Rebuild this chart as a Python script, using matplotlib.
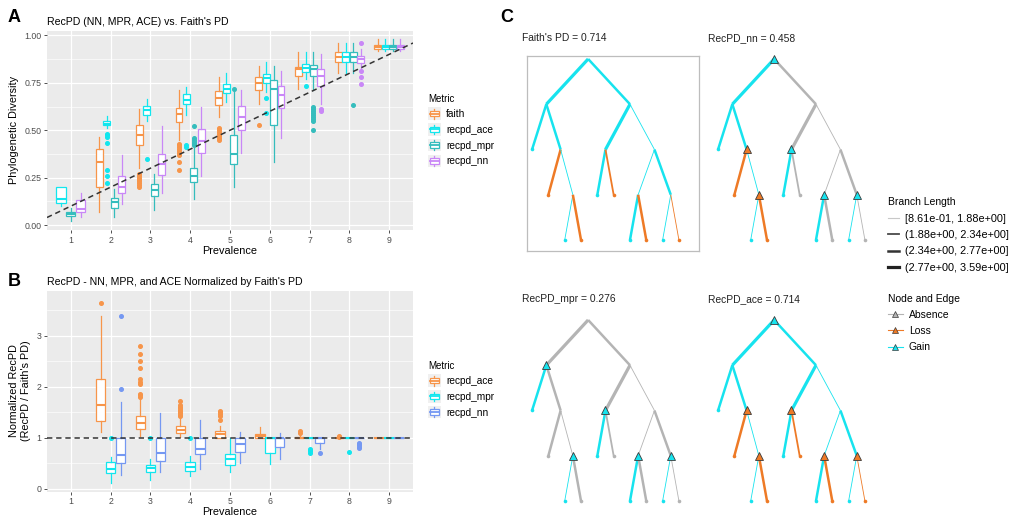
import numpy as np
import matplotlib
matplotlib.use("Agg")
import matplotlib.pyplot as plt
from matplotlib.patches import Rectangle, Patch
from matplotlib.lines import Line2D
from matplotlib.legend_handler import HandlerBase

plt.rcParams['font.family'] = ['Liberation Sans', 'DejaVu Sans']

# ---------------- DATA ----------------
prevalence = [1, 2, 3, 4, 5, 6, 7, 8, 9]

# Panel A: (whisker low, q1, median, q3, whisker high) per prevalence
faith_box = [None,
             (0.07, 0.20, 0.335, 0.40, 0.465),
             (0.30, 0.42, 0.473, 0.526, 0.61),
             (0.45, 0.544, 0.588, 0.618, 0.71),
             (0.57, 0.633, 0.671, 0.707, 0.78),
             (0.64, 0.712, 0.747, 0.78, 0.84),
             (0.72, 0.788, 0.822, 0.836, 0.91),
             (0.80, 0.862, 0.887, 0.915, 0.96),
             (0.92, 0.93, 0.94, 0.95, 0.98)]
faith_out = [[], [], [0.27, 0.26, 0.25, 0.24, 0.23, 0.22, 0.21, 0.20],
             [0.43, 0.42, 0.41, 0.40, 0.39, 0.38, 0.37, 0.33, 0.29],
             [0.51, 0.50, 0.49, 0.48, 0.47, 0.46, 0.45], [0.53], [], [], []]

ace_box = [(0.10, 0.117, 0.138, 0.203, 0.203),
           (0.51, 0.527, 0.533, 0.548, 0.576),
           (0.55, 0.58, 0.606, 0.629, 0.665),
           (0.58, 0.641, 0.659, 0.689, 0.73),
           (0.65, 0.694, 0.717, 0.742, 0.80),
           (0.70, 0.747, 0.774, 0.795, 0.86),
           (0.77, 0.806, 0.83, 0.848, 0.91),
           (0.80, 0.862, 0.887, 0.915, 0.96),
           (0.92, 0.93, 0.94, 0.95, 0.98)]
ace_out = [[], [0.482, 0.473, 0.465, 0.435, 0.288, 0.261, 0.221], [0.35],
           [0.42, 0.41], [], [0.67, 0.59], [0.735], [], []]

mpr_box = [(0.02, 0.05, 0.058, 0.07, 0.09),
           (0.04, 0.088, 0.124, 0.141, 0.19),
           (0.08, 0.152, 0.187, 0.217, 0.27),
           (0.14, 0.226, 0.261, 0.30, 0.41),
           (0.20, 0.32, 0.376, 0.473, 0.70),
           (0.33, 0.527, 0.72, 0.765, 0.84),
           (0.71, 0.788, 0.823, 0.845, 0.91),
           (0.80, 0.862, 0.885, 0.915, 0.96),
           (0.92, 0.93, 0.94, 0.95, 0.98)]
mpr_out = [[], [], [], [0.52, 0.46, 0.45, 0.44, 0.43, 0.42], [0.715], [],
           [0.62, 0.61, 0.60, 0.59, 0.58, 0.57, 0.56, 0.55, 0.50], [0.635], []]

nn_box = [(0.04, 0.067, 0.085, 0.132, 0.17),
          (0.11, 0.17, 0.203, 0.26, 0.37),
          (0.17, 0.265, 0.32, 0.376, 0.52),
          (0.26, 0.382, 0.442, 0.509, 0.62),
          (0.38, 0.50, 0.57, 0.629, 0.71),
          (0.46, 0.618, 0.686, 0.735, 0.81),
          (0.64, 0.735, 0.788, 0.822, 0.90),
          (0.83, 0.853, 0.876, 0.894, 0.93),
          (0.92, 0.93, 0.94, 0.95, 0.98)]
nn_out = [[], [], [], [], [], [], [0.61, 0.60], [0.96, 0.81, 0.78, 0.745], []]

ref_slope_A = 0.1     # dashed reference line y = 0.1 * prevalence

# Panel B: normalized by Faith's PD
bace_box = [None,
            (1.12, 1.33, 1.64, 2.16, 3.38),
            (1.03, 1.18, 1.28, 1.42, 1.75),
            (1.02, 1.10, 1.16, 1.23, 1.38),
            (1.0, 1.0, 1.07, 1.14, 1.22),
            (1.0, 1.0, 1.04, 1.08, 1.20),
            (1.0, 1.0, 1.0, 1.02, 1.07),
            (1.0, 1.0, 1.0, 1.0, 1.0),
            (1.0, 1.0, 1.0, 1.0, 1.0)]
bace_out = [[], [3.65],
            [1.80, 1.83, 1.86, 2.05, 2.10, 2.16, 2.36, 2.50, 2.65, 2.80],
            [1.42, 1.45, 1.48, 1.50, 1.52, 1.55, 1.58, 1.60, 1.65, 1.72],
            [1.35, 1.43, 1.47, 1.50, 1.53], [], [1.10, 1.13], [1.03, 1.02], []]

bmpr_box = [None,
            (0.12, 0.30, 0.38, 0.53, 0.62),
            (0.18, 0.33, 0.40, 0.46, 0.58),
            (0.25, 0.35, 0.43, 0.53, 0.65),
            (0.33, 0.46, 0.58, 0.69, 1.0),
            (0.48, 0.70, 1.0, 1.0, 1.0),
            (1.0, 1.0, 1.0, 1.0, 1.0),
            (1.0, 1.0, 1.0, 1.0, 1.0),
            (1.0, 1.0, 1.0, 1.0, 1.0)]
bmpr_out = [[], [1.0], [1.0], [1.0], [], [], [0.78, 0.76, 0.73, 0.70], [0.72], []]

bnn_box = [None,
           (0.27, 0.50, 0.66, 1.0, 1.70),
           (0.32, 0.55, 0.70, 1.0, 1.48),
           (0.38, 0.68, 0.78, 1.0, 1.35),
           (0.50, 0.72, 0.87, 1.0, 1.12),
           (0.58, 0.81, 1.0, 1.0, 1.10),
           (0.78, 0.89, 1.0, 1.0, 1.0),
           (1.0, 1.0, 1.0, 1.0, 1.0),
           (1.0, 1.0, 1.0, 1.0, 1.0)]
bnn_out = [[], [1.95, 3.39], [], [], [], [], [0.70], [0.90, 0.88, 0.85, 0.82, 0.80], []]

ref_level_B = 1.0

metrics_A = ['faith', 'recpd_ace', 'recpd_mpr', 'recpd_nn']
metrics_B = ['recpd_ace', 'recpd_mpr', 'recpd_nn']
colors_A = ['#F7954A', '#12E6EE', '#35BDBD', '#C987F7']
colors_B = ['#F7954A', '#12E6EE', '#7598F2']

# Panel C: tree structure
children = {'root': ['L', 'R'], 'L': ['A', 'BCD'], 'BCD': ['B', 'CD'], 'CD': ['C', 'D'],
            'R': ['EF', 'GHIJ'], 'EF': ['E', 'F'], 'GHIJ': ['GH', 'IJ'],
            'GH': ['G', 'H'], 'IJ': ['I', 'J']}
leaf_order = ['A', 'B', 'C', 'D', 'E', 'F', 'G', 'H', 'I', 'J']
branch_class = {'L': 4, 'R': 3, 'A': 3, 'BCD': 3, 'B': 3, 'CD': 1, 'C': 1, 'D': 3,
                'EF': 4, 'GHIJ': 1, 'E': 3, 'F': 2, 'GH': 1, 'IJ': 3,
                'G': 3, 'H': 3, 'I': 1, 'J': 1}
tree_titles = ["Faith's PD = 0.714", "RecPD_nn = 0.458", "RecPD_mpr = 0.276", "RecPD_ace = 0.714"]
edge_states = [
    {'L': 'g', 'R': 'g', 'A': 'g', 'BCD': 'g', 'B': 'l', 'CD': 'g', 'C': 'g', 'D': 'l', 'EF': 'g',
     'GHIJ': 'g', 'E': 'g', 'F': 'l', 'GH': 'g', 'IJ': 'g', 'G': 'g', 'H': 'l', 'I': 'g', 'J': 'l'},
    {'L': 'g', 'R': 'a', 'A': 'g', 'BCD': 'g', 'B': 'l', 'CD': 'g', 'C': 'g', 'D': 'l', 'EF': 'a',
     'GHIJ': 'a', 'E': 'g', 'F': 'a', 'GH': 'a', 'IJ': 'a', 'G': 'g', 'H': 'a', 'I': 'g', 'J': 'a'},
    {'L': 'a', 'R': 'a', 'A': 'g', 'BCD': 'a', 'B': 'a', 'CD': 'a', 'C': 'g', 'D': 'a', 'EF': 'a',
     'GHIJ': 'a', 'E': 'g', 'F': 'a', 'GH': 'a', 'IJ': 'a', 'G': 'g', 'H': 'a', 'I': 'g', 'J': 'a'},
    {'L': 'g', 'R': 'g', 'A': 'g', 'BCD': 'g', 'B': 'l', 'CD': 'g', 'C': 'g', 'D': 'l', 'EF': 'g',
     'GHIJ': 'g', 'E': 'g', 'F': 'l', 'GH': 'g', 'IJ': 'g', 'G': 'g', 'H': 'l', 'I': 'g', 'J': 'l'},
]
node_marks = [
    {},
    {'root': 'g', 'BCD': 'l', 'CD': 'l', 'EF': 'g', 'GH': 'g', 'IJ': 'g'},
    {'L': 'g', 'CD': 'g', 'EF': 'g', 'GH': 'g', 'IJ': 'g'},
    {'root': 'g', 'BCD': 'l', 'CD': 'l', 'EF': 'l', 'GH': 'l', 'IJ': 'l'},
]
branch_labels = ['[8.61e-01, 1.88e+00]', '(1.88e+00, 2.34e+00]',
                 '(2.34e+00, 2.77e+00]', '(2.77e+00, 3.59e+00]']
state_labels = ['Absence', 'Loss', 'Gain']

# ---------------- FIGURE ----------------
W, H = 1029, 518
fig = plt.figure(figsize=(W / 100, H / 100), dpi=100)


def add_ax(l, t, r, b):
    return fig.add_axes([l / W, 1 - b / H, (r - l) / W, (b - t) / H])


def gg_style(ax):
    ax.set_facecolor('#EBEBEB')
    for s in ax.spines.values():
        s.set_visible(False)
    ax.set_axisbelow(True)
    ax.grid(True, which='major', color='white', linewidth=0.9)
    ax.grid(True, which='minor', axis='y', color='white', linewidth=0.45)
    ax.tick_params(which='major', length=2.5, width=0.6, color='#333333',
                   labelsize=6.3, labelcolor='#4D4D4D', pad=1.5)
    ax.tick_params(which='minor', length=0)


def draw_boxes(ax, boxes, outs, colors, wfrac):
    for pi, p in enumerate(prevalence):
        present = [k for k in range(len(boxes)) if boxes[k][pi] is not None]
        n = len(present)
        if n == 0:
            continue
        slot = 0.75 / n
        for j, k in enumerate(present):
            lo, q1, med, q3, hi = boxes[k][pi]
            c = colors[k]
            pos = p + (j - (n - 1) / 2) * slot
            st = [dict(whislo=lo, q1=q1, med=med, q3=q3, whishi=hi, fliers=outs[k][pi])]
            ax.bxp(st, positions=[pos], widths=slot * wfrac, showcaps=False, patch_artist=True,
                   boxprops=dict(facecolor='white', edgecolor=c, linewidth=0.9),
                   whiskerprops=dict(color=c, linewidth=0.9),
                   medianprops=dict(color=c, linewidth=1.5),
                   flierprops=dict(marker='o', markerfacecolor=c, markeredgecolor=c,
                                   markersize=2.6, linestyle='none'),
                   manage_ticks=False)


class BoxKey(HandlerBase):
    def create_artists(self, legend, orig_handle, xdescent, ydescent, width, height, fontsize, trans):
        c = orig_handle.get_edgecolor()
        x0, y0 = -xdescent, -ydescent
        bg = Rectangle((x0, y0), width, height, facecolor='#F0F0F0', edgecolor='none', transform=trans)
        cx = x0 + width / 2
        bw = width * 0.7
        bh = height * 0.45
        by = y0 + (height - bh) / 2
        w1 = Line2D([cx, cx], [y0 + height * 0.1, by], color=c, lw=0.9, transform=trans)
        w2 = Line2D([cx, cx], [by + bh, y0 + height * 0.9], color=c, lw=0.9, transform=trans)
        box = Rectangle((cx - bw / 2, by), bw, bh, facecolor='white', edgecolor=c, lw=0.9, transform=trans)
        md = Line2D([cx - bw / 2, cx + bw / 2], [by + bh / 2] * 2, color=c, lw=1.3, transform=trans)
        return [bg, w1, w2, box, md]


def box_legend(labels, colors, top_px):
    handles = [Patch(facecolor='white', edgecolor=c) for c in colors]
    lg = fig.legend(handles, labels, title='Metric', loc='upper left',
                    bbox_to_anchor=(428 / W, 1 - top_px / H), bbox_transform=fig.transFigure,
                    frameon=False, fontsize=7.3, title_fontsize=7, handler_map={Patch: BoxKey()},
                    handlelength=1.25, handleheight=1.5, handletextpad=0.55, labelspacing=0.34,
                    borderpad=0, borderaxespad=0, alignment='left')
    return lg


# ---- Panel A ----
axA = add_ax(47, 30.5, 413, 230)
gg_style(axA)
draw_boxes(axA, [faith_box, ace_box, mpr_box, nn_box],
           [faith_out, ace_out, mpr_out, nn_out], colors_A, 0.93)
axA.axline((0, 0), slope=ref_slope_A, color='#333333', lw=1.1, ls=(0, (3.5, 2.5)), zorder=5)
axA.set_xlim(0.4, 9.6)
axA.set_ylim(-0.026, 1.026)
axA.set_xticks(prevalence)
axA.set_yticks([0, 0.25, 0.5, 0.75, 1.0])
axA.set_yticklabels(['0.00', '0.25', '0.50', '0.75', '1.00'])
axA.set_yticks([0.125, 0.375, 0.625, 0.875], minor=True)
axA.set_xlabel('Prevalence', fontsize=7.8, labelpad=1)
axA.set_ylabel('Phylogenetic Diversity', fontsize=7.8, labelpad=3.5)
axA.set_title("RecPD (NN, MPR, ACE) vs. Faith's PD", loc='left', fontsize=7.6, pad=4)
box_legend(metrics_A, colors_A, 94)

# ---- Panel B ----
axB = add_ax(47, 290.5, 413, 491.5)
gg_style(axB)
draw_boxes(axB, [bace_box, bmpr_box, bnn_box], [bace_out, bmpr_out, bnn_out], colors_B, 0.95)
axB.axhline(ref_level_B, color='#333333', lw=1.1, ls=(0, (3.5, 2.5)), zorder=5)
axB.set_xlim(0.4, 9.6)
axB.set_ylim(-0.055, 3.886)
axB.set_xticks(prevalence)
axB.set_yticks([0, 1, 2, 3])
axB.set_yticks([0.5, 1.5, 2.5, 3.5], minor=True)
axB.set_xlabel('Prevalence', fontsize=7.8, labelpad=1)
axB.set_ylabel("Normalized RecPD\n(RecPD / Faith's PD)", fontsize=7.8, labelpad=4)
axB.set_title("RecPD - NN, MPR, and ACE Normalized by Faith's PD", loc='left', fontsize=7.6, pad=4)
box_legend(metrics_B, colors_B, 361)

# ---- Panel C: trees ----
state_color = {'g': '#17E3EE', 'l': '#EE7A26', 'a': '#B4B4B4'}
class_lw = {1: 0.6, 2: 1.3, 3: 1.8, 4: 2.3}

depth, xpos = {}, {}


def layout(node, d):
    depth[node] = d
    if node in children:
        for ch in children[node]:
            layout(ch, d + 1)
        xpos[node] = np.mean([xpos[ch] for ch in children[node]])
    else:
        xpos[node] = leaf_order.index(node)


layout('root', 0)

tree_boxes = [(527, 56, 699, 251), (713, 56, 885, 251), (527, 317, 699, 512), (713, 317, 885, 512)]
for ti in range(4):
    l, t, r, b = tree_boxes[ti]
    ax = add_ax(l, t, r, b)
    ax.set_xlim(-0.31, 10.23)
    ax.set_ylim(4.243, -0.066)
    ax.set_xticks([])
    ax.set_yticks([])
    ax.set_facecolor('none')
    for s in ax.spines.values():
        s.set_visible(ti == 0)
        s.set_color('#BDBDBD')
        s.set_linewidth(0.9)
    states = edge_states[ti]
    for par, chs in children.items():
        for ch in chs:
            c = state_color[states[ch]]
            ax.plot([xpos[par], xpos[ch]], [depth[par], depth[ch]], color=c,
                    lw=class_lw[branch_class[ch]], solid_capstyle='butt', zorder=2)
            if ch not in children:
                ax.plot(xpos[ch], depth[ch], 'o', color=c, markersize=2.6, mew=0, zorder=3)
    for nd, stt in node_marks[ti].items():
        ax.plot(xpos[nd], depth[nd], '^', markerfacecolor=state_color[stt],
                markeredgecolor='#3A3A3A', markersize=5.5, mew=0.6, zorder=4, clip_on=False)
    fig.text((l - 5) / W, 1 - (t - 18) / H, tree_titles[ti], fontsize=7.4, ha='left', va='center',
             color='#222222')

# Tree legends
bl_handles = [Line2D([], [], color=c, lw=w) for c, w in
              zip(['#C8C8C8', '#4A4A4A', '#333333', '#222222'], [0.8, 1.3, 1.8, 2.3])]
fig.legend(bl_handles, branch_labels, title='Branch Length', loc='upper left',
           bbox_to_anchor=(888 / W, 1 - 197 / H), bbox_transform=fig.transFigure,
           frameon=False, fontsize=7.8, title_fontsize=7.5, handlelength=1.0, handletextpad=0.6,
           labelspacing=0.6, borderpad=0, borderaxespad=0, alignment='left')
st_handles = [Line2D([], [], color=state_color[k], lw=0.8, marker='^', markersize=4.5,
                     markerfacecolor=state_color[k], markeredgecolor='#3A3A3A', mew=0.5)
              for k in ['a', 'l', 'g']]
fig.legend(st_handles, state_labels, title='Node and Edge', loc='upper left',
           bbox_to_anchor=(888 / W, 1 - 293.5 / H), bbox_transform=fig.transFigure,
           frameon=False, fontsize=7.5, title_fontsize=7.5, handlelength=1.4, handletextpad=0.6,
           labelspacing=0.6, borderpad=0, borderaxespad=0, alignment='left')

# Panel letters
for letter, (px, py) in zip(['A', 'B', 'C'], [(8, 17), (8, 281), (500, 18)]):
    fig.text(px / W, 1 - py / H, letter, fontsize=13, fontweight='bold', ha='left', va='center')

fig.savefig('out.png', dpi=100)
